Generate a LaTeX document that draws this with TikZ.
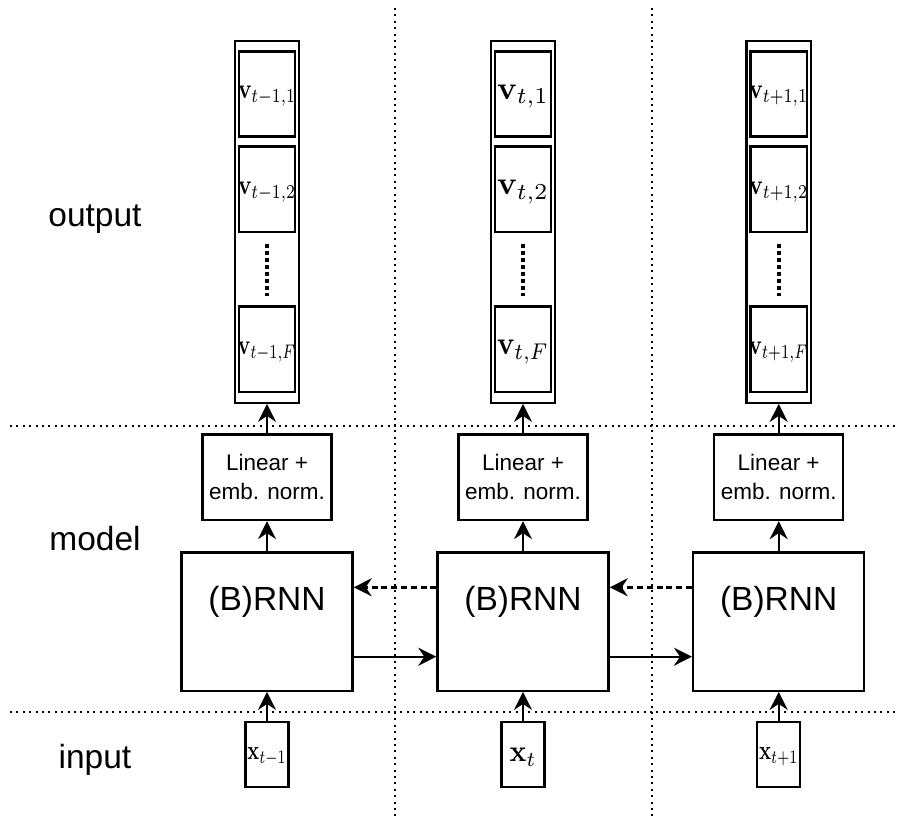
\documentclass[tikz,border=0pt]{standalone}
\usepackage[no-math]{fontspec}
\setmainfont{Liberation Sans}
\usepackage{amsmath}
\usetikzlibrary{arrows.meta}

% scale a math label to a given width and height (in pt)
\newcommand{\fitlabel}[3]{\resizebox{#1pt}{#2pt}{$#3$}}

\tikzset{
  box/.style={draw, rectangle, line width=2.4pt, inner sep=0pt},
  cell/.style={box, minimum width=56.5pt, minimum height=85.3pt},
  stackbox/.style={box, minimum width=64.5pt, minimum height=361.7pt},
  linbox/.style={box, minimum width=129pt, minimum height=85.3pt, align=center,
                 font=\fontsize{22.5}{29}\selectfont},
  rnnbox/.style={box, minimum width=171pt, minimum height=138.4pt},
  inbox/.style={box, minimum width=43pt, minimum height=65pt},
  bigtext/.style={font=\fontsize{33.5}{40}\selectfont, inner sep=0pt, anchor=base},
  link/.style={line width=2.4pt, -{Stealth[length=18pt,width=18pt,inset=6pt]}},
  backlink/.style={link, dash pattern=on 6pt off 3.8pt},
  sep/.style={line width=2pt, dash pattern=on 2pt off 4.4pt},
  ellip/.style={line width=4.3pt, dash pattern=on 4pt off 3pt},
}

\begin{document}
\begin{tikzpicture}[x=1pt, y=-1pt]
  \useasboundingbox (0,0) rectangle (898,816);

  % separators between layers and time steps
  \coordinate (h1a) at (10,425.5);  \coordinate (h1b) at (898,425.5);
  \coordinate (h2a) at (10,711.5);  \coordinate (h2b) at (898,711.5);
  \coordinate (v1a) at (395,8);     \coordinate (v1b) at (395,816);
  \coordinate (v2a) at (651.5,8);   \coordinate (v2b) at (651.5,816);
  \draw[sep] (h1a) -- (h1b);
  \draw[sep] (h2a) -- (h2b);
  \draw[sep] (v1a) -- (v1b);
  \draw[sep] (v2a) -- (v2b);

  % layer names
  \node[bigtext] (louter) at (95,226.7) {output};
  \node[bigtext] (lmodel) at (95,550.7) {model};
  \node[bigtext] (linput) at (95,768) {input};

  % one column per time step
  \foreach \i/\cx/\sub/\vw/\vh/\xw/\xh in {1/267/{t-1}/58/12.5/39/12,
                                          2/523/{t}/51.7/14.5/26.7/13.5,
                                          3/778.7/{t+1}/59/12.5/39.3/12}{
    \node[stackbox] (out\i) at (\cx,221.85) {};
    \node[cell] (c\i a) at (\cx,94) {};
    \node[cell] (c\i b) at (\cx,189.3) {};
    \node[cell] (c\i f) at (\cx,349.3) {};
    \node[inner sep=0pt] (t\i a) at (\cx,96.5) {\fitlabel{\vw}{\vh}{\mathbf{v}_{\sub,1}}};
    \node[inner sep=0pt] (t\i b) at (\cx,191.8) {\fitlabel{\vw}{\vh}{\mathbf{v}_{\sub,2}}};
    \node[inner sep=0pt] (t\i f) at (\cx,351.8) {\fitlabel{\vw}{\vh}{\mathbf{v}_{\sub,F}}};
    \draw[ellip] ([yshift=-11pt]c\i b.south) -- ([yshift=9.5pt]c\i f.north);

    \node[linbox] (lin\i) at (\cx,477.3) {Linear +\\emb. norm.};
    \node[rnnbox] (rnn\i) at (\cx,621.5) {};
    \node[bigtext] (rt\i) at (\cx,610.7) {(B)RNN};
    \node[inbox] (in\i) at (\cx,754.5) {};
    \node[inner sep=0pt] (xt\i) at (\cx,757) {\fitlabel{\xw}{\xh}{\mathbf{x}_{\sub}}};

    \draw[link] (in\i) -- (rnn\i);
    \draw[link] (rnn\i) -- (lin\i);
    \draw[link] (lin\i) -- (out\i);
  }

  % recurrent connections: forward (solid) and backward (dashed)
  \foreach \a/\b in {1/2, 2/3}{
    \draw[link] ([yshift=-35.2pt]rnn\a.east) -- ([yshift=-35.2pt]rnn\b.west);
    \draw[backlink] ([yshift=34.2pt]rnn\b.west) -- ([yshift=34.2pt]rnn\a.east);
  }
\end{tikzpicture}
\end{document}
